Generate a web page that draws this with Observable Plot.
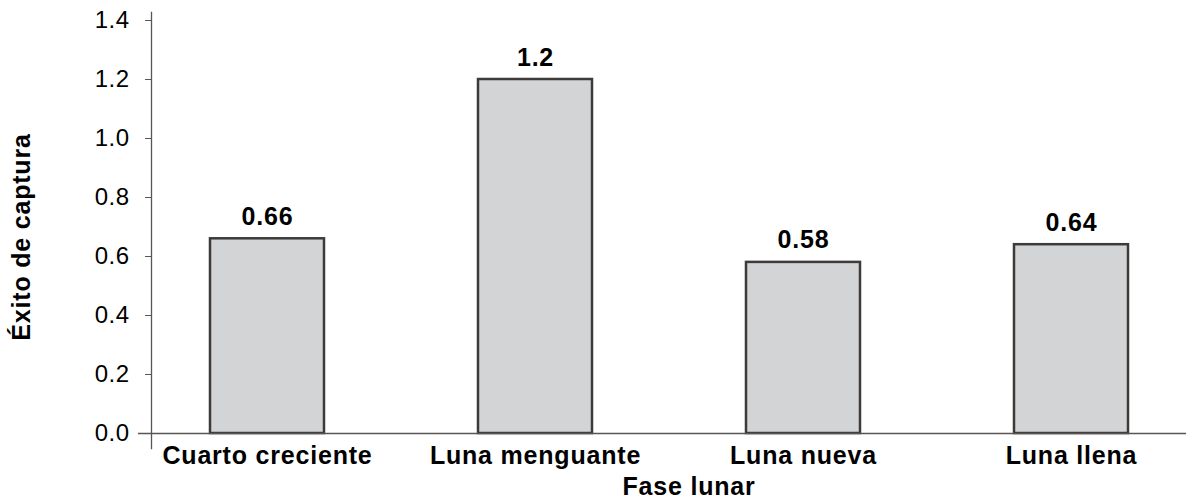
<!DOCTYPE html>
<html>
<head>
<meta charset="utf-8">
<script src="https://cdn.jsdelivr.net/npm/d3@7"></script>
<script src="https://cdn.jsdelivr.net/npm/@observablehq/plot@0.6"></script>
<style>
  html, body { margin: 0; padding: 0; background: #fff; }
  #chart svg { display: block; }
  #chart svg text { letter-spacing: 0.8px; }
  #chart svg g[aria-label="y-axis tick label"] text { letter-spacing: 0.5px; }
</style>
</head>
<body>
<div id="chart"></div>
<script>
// Capture success by lunar phase
const phases = ["Cuarto creciente", "Luna menguante", "Luna nueva", "Luna llena"];
const success = [0.66, 1.2, 0.58, 0.64];
const yTicks = [0, 0.2, 0.4, 0.6, 0.8, 1.0, 1.2, 1.4];

const data = phases.map((p, i) => ({phase: p, value: success[i]}));

const axisColor = "#5a5555";
const font = "'Liberation Sans', Arial, Helvetica, sans-serif";

const chart = Plot.plot({
  width: 1186,
  height: 499,
  marginTop: 20,
  marginBottom: 66,
  marginLeft: 151,
  marginRight: 0,
  style: {fontFamily: font, background: "#fff", color: "#000", overflow: "visible"},
  x: {domain: phases, paddingInner: 0.576, paddingOuter: 0.212, label: null},
  y: {domain: [0, 1.4], label: null},
  marks: [
    Plot.barY(data, {
      x: "phase", y: "value",
      fill: "#d3d4d6", stroke: "#3d3a3a", strokeWidth: 2.5
    }),
    // axis lines
    Plot.frame({anchor: "left", stroke: axisColor, strokeWidth: 1.3, insetTop: -8, insetBottom: -15}),
    Plot.ruleY([0], {stroke: axisColor, strokeWidth: 1.5, insetLeft: -13}),
    Plot.axisY({
      ticks: yTicks, tickFormat: d3.format(".1f"),
      tickSize: 6, tickPadding: 16, stroke: axisColor,
      fontSize: 24, label: null
    }),
    Plot.axisX({
      tickSize: 0, tickPadding: 13,
      fontSize: 25, fontWeight: "bold", label: null
    }),
    // value labels
    Plot.text(data, {
      x: "phase", y: "value", text: d => String(d.value),
      lineAnchor: "bottom", dy: -14,
      fontSize: 25, fontWeight: "bold", fill: "#000"
    }),
    // axis titles
    Plot.text(["Fase lunar"], {
      frameAnchor: "bottom", lineAnchor: "top", dx: 20, dy: 44,
      fontSize: 25, fontWeight: "bold", fill: "#000"
    }),
    Plot.text(["Éxito de captura"], {
      frameAnchor: "left", textAnchor: "middle", rotate: -90, lineAnchor: "middle",
      dx: -130, dy: 10,
      fontSize: 25, fontWeight: "bold", fill: "#000"
    })
  ]
});

document.getElementById("chart").appendChild(chart);
</script>
</body>
</html>
